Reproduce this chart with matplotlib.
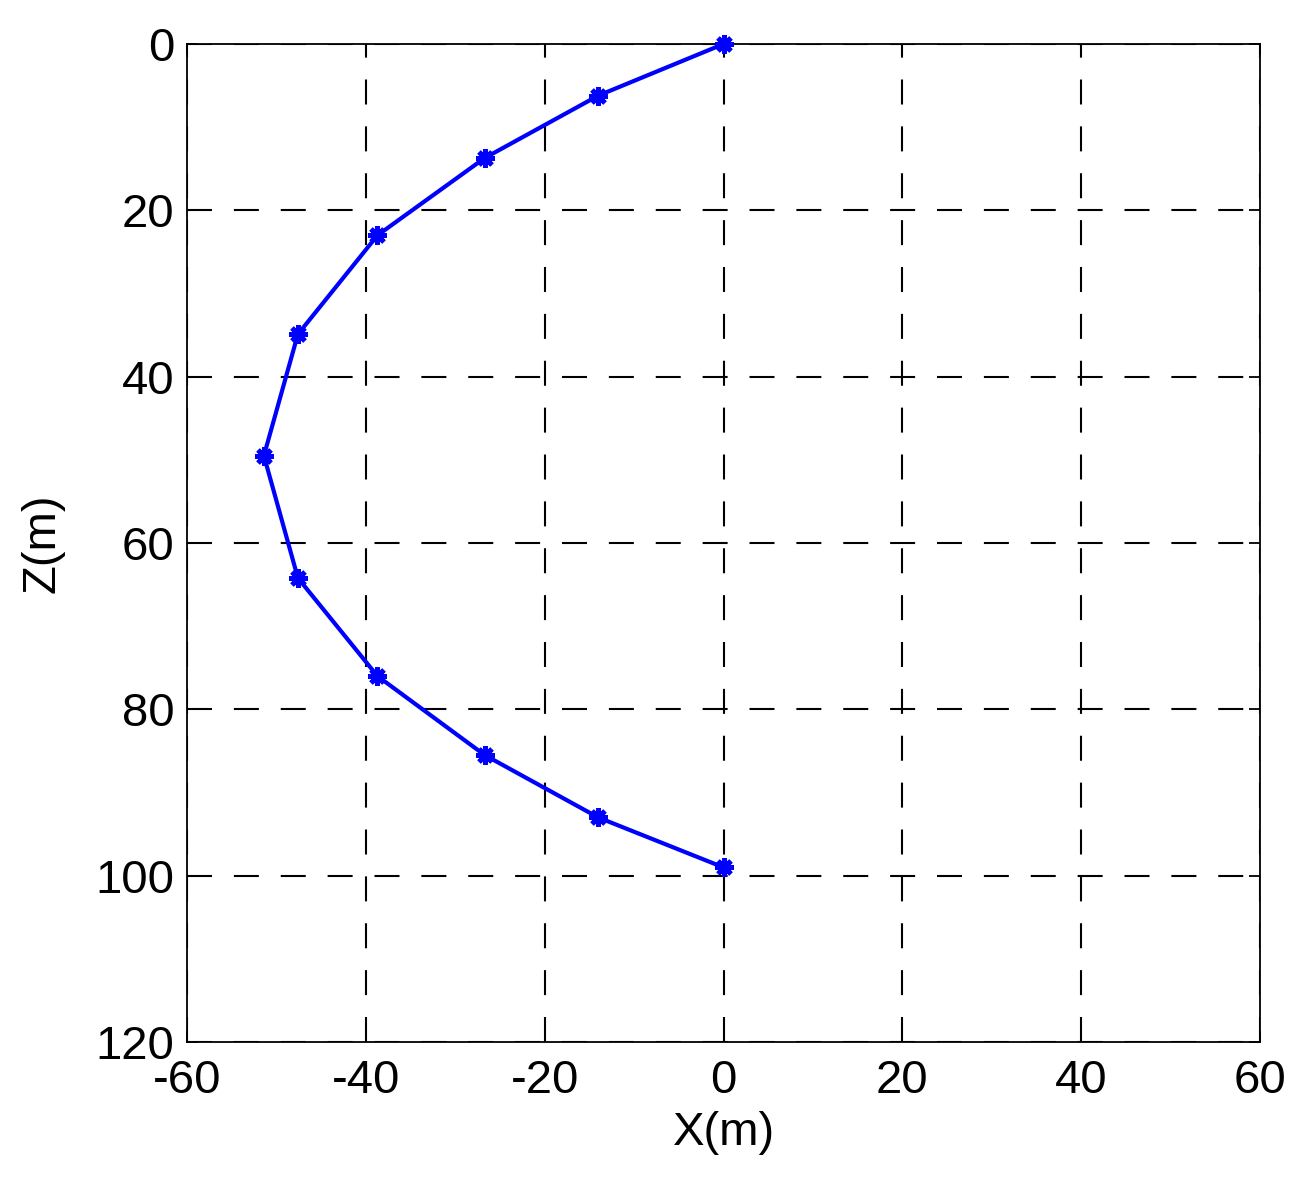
import matplotlib
matplotlib.use('Agg')
import matplotlib.pyplot as plt

# trajectory points
x_vals = [0, -14.0, -26.7, -38.7, -47.6, -51.4, -47.6, -38.7, -26.7, -14.0, 0]
z_vals = [0, 6.2, 13.7, 23.0, 34.9, 49.5, 64.2, 76.0, 85.5, 93.0, 99.0]
x_ticks = [-60, -40, -20, 0, 20, 40, 60]
z_ticks = [0, 20, 40, 60, 80, 100, 120]

plt.rcParams['font.family'] = ['Liberation Sans', 'DejaVu Sans']
plt.rcParams['axes.unicode_minus'] = False

fig = plt.figure(figsize=(13.04, 11.8), dpi=100)
ax = fig.add_axes([0.1434, 0.1169, 0.8229, 0.8458])

ax.plot(x_vals, z_vals, color='blue', linewidth=3, marker=(8, 2, 0),
        markersize=13, markeredgewidth=3.5, clip_on=False, zorder=5)

ax.set_xlim(-60, 60)
ax.set_ylim(120, 0)
ax.set_xticks(x_ticks)
ax.set_yticks(z_ticks)
ax.tick_params(direction='in', length=8, width=1.3, labelsize=34, top=True, right=True)
ax.tick_params(axis='x', pad=12)
ax.tick_params(axis='y', pad=9)
ax.grid(True, color='black', linestyle=(0, (12, 10.5)), linewidth=1.5)
for s in ax.spines.values():
    s.set_linewidth(1.3)

ax.set_xlabel('X(m)', fontsize=34, labelpad=6)
ax.set_ylabel('Z(m)', fontsize=34, labelpad=22)

fig.savefig('out.png', dpi=100)
